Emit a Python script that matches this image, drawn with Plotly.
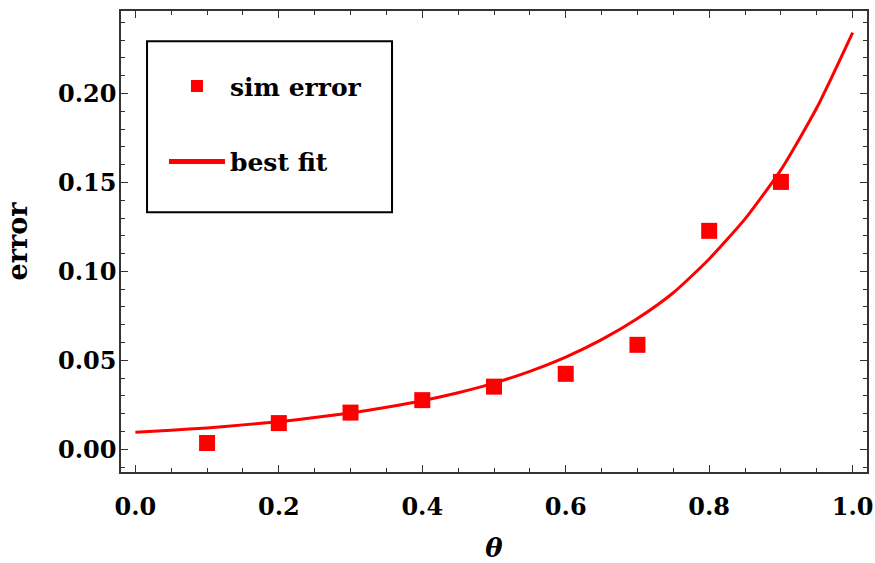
import plotly.graph_objects as go

# simulated error points
theta_pts = [0.1, 0.2, 0.3, 0.4, 0.5, 0.6, 0.7, 0.8, 0.9]
err_pts = [0.0035, 0.0147, 0.0206, 0.0276, 0.0352, 0.0424, 0.0587, 0.1228, 0.1503]

# best-fit curve
theta_fit = [0.00, 0.05, 0.10, 0.15, 0.20, 0.25, 0.30, 0.35, 0.40, 0.45, 0.50,
             0.55, 0.60, 0.65, 0.70, 0.75, 0.80, 0.85, 0.90, 0.95, 1.00]
err_fit = [0.0095, 0.0107, 0.0120, 0.0137, 0.0155, 0.0178, 0.0204, 0.0236, 0.0273, 0.0318, 0.0372,
           0.0438, 0.0518, 0.0616, 0.0735, 0.0880, 0.1070, 0.1295, 0.1571, 0.1920, 0.2343]

x_ticks = [0.0, 0.2, 0.4, 0.6, 0.8, 1.0]
y_ticks = [0.00, 0.05, 0.10, 0.15, 0.20]

RED = "#FF0000"
FRAME = "#333333"
FONT = "DejaVu Serif"

fig = go.Figure()
fig.add_trace(go.Scatter(
    x=theta_pts, y=err_pts, mode="markers", name="sim error",
    marker=dict(symbol="square", size=16, color=RED),
    legendgroup="a",
))
fig.add_trace(go.Scatter(
    x=theta_fit, y=err_fit, mode="lines", name="best fit",
    line=dict(color=RED, width=3, shape="spline", smoothing=0.6),
    legendgroup="b",
))

axis_common = dict(
    showline=True, linecolor=FRAME, linewidth=1.5, mirror="allticks",
    ticks="inside", ticklen=7, tickwidth=1.2, tickcolor=FRAME,
    showgrid=False, zeroline=False, automargin=False,
    tickfont=dict(family=FONT, size=24, color="black", weight="bold"),
)

fig.update_xaxes(
    **axis_common,
    range=[-0.02, 1.02], tickvals=x_ticks, tickformat=".1f",
    minor=dict(dtick=0.05, tick0=0, ticks="inside", ticklen=4, tickcolor=FRAME, tickwidth=1),
    ticklabelstandoff=12,
    title=dict(text="<b><i>θ</i></b>", font=dict(family=FONT, size=26, color="black"), standoff=30),
)
fig.update_yaxes(
    **axis_common,
    range=[-0.0128, 0.2464], tickvals=y_ticks, tickformat=".2f",
    minor=dict(dtick=0.01, tick0=0, ticks="inside", ticklen=4, tickcolor=FRAME, tickwidth=1),
    ticklabelstandoff=-2,
    title=dict(text="<b>error</b>", font=dict(family=FONT, size=27, color="black"), standoff=23),
)

# legend frame
fig.add_shape(
    type="rect", xref="paper", yref="paper",
    x0=0.0349, x1=0.3633, y0=0.5636, y1=0.9343,
    line=dict(color="black", width=2), fillcolor="white", layer="below",
)

fig.update_layout(
    width=875, height=563,
    margin=dict(l=121, r=8, t=11, b=91),
    plot_bgcolor="white", paper_bgcolor="white",
    showlegend=True,
    legend=dict(
        x=0.0576, y=0.8866, xanchor="left", yanchor="top",
        borderwidth=0, bgcolor="rgba(0,0,0,0)",
        font=dict(family=FONT, size=25, color="black", weight="bold"),
        traceorder="grouped", tracegroupgap=40, itemwidth=56, itemsizing="constant",
    ),
)

fig.write_html("out.html")
